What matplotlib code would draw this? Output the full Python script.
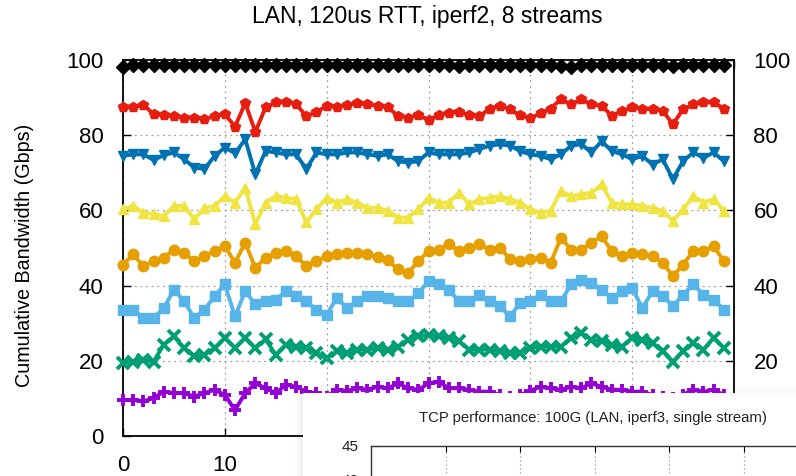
"""
LAN, 120us RTT, iperf2, 8 streams -- cumulative bandwidth per stream count,
with the iperf3 single-stream screenshot pasted over the lower right corner
"""

import matplotlib
matplotlib.use("Agg")
import matplotlib.pyplot as plt
from matplotlib.patches import Rectangle
import numpy as np

plt.rcParams["font.family"] = ["Liberation Sans", "DejaVu Sans"]

seconds = np.arange(60)

bw_8 = [98.1, 98.7, 98.8, 98.7, 98.8, 98.7, 98.8, 98.6, 98.8, 98.7,
        98.8, 98.7, 98.8, 98.6, 98.8, 98.7, 98.8, 98.7, 98.6, 98.8,
        98.7, 98.8, 98.6, 98.8, 98.7, 98.8, 98.7, 98.8, 98.7, 98.8,
        98.6, 98.7, 98.8, 98.3, 98.7, 98.8, 98.7, 98.8, 98.6, 98.7,
        98.8, 98.6, 98.7, 98.5, 98.2, 98.6, 98.7, 98.8, 98.6, 98.7,
        98.8, 98.7, 98.8, 98.6, 98.3, 98.7, 98.8, 98.7, 98.6, 98.7]
bw_7 = [87.4, 87.4, 88.1, 85.6, 85.3, 85.0, 84.7, 84.7, 84.3, 85.0,
        85.6, 82.3, 88.5, 80.9, 87.4, 88.7, 88.8, 88.3, 85.0, 86.2,
        87.8, 87.6, 88.0, 88.5, 88.2, 87.8, 87.4, 85.2, 84.7, 85.3,
        84.1, 85.3, 86.0, 86.2, 85.3, 85.0, 87.1, 87.8, 86.9, 85.3,
        84.5, 85.9, 87.1, 89.6, 88.2, 89.6, 88.2, 87.8, 85.2, 86.5,
        87.4, 87.1, 86.9, 86.5, 82.9, 86.9, 88.2, 88.7, 88.7, 87.1]
bw_6 = [74.5, 74.9, 74.9, 73.4, 74.7, 75.4, 73.6, 71.4, 71.0, 74.5,
        76.7, 75.2, 78.9, 69.6, 75.8, 75.4, 74.9, 74.9, 71.0, 75.4,
        74.9, 74.9, 75.4, 75.4, 74.9, 74.5, 74.9, 73.1, 72.7, 73.1,
        75.4, 74.9, 74.9, 74.9, 75.4, 76.3, 77.2, 77.6, 77.2, 75.8,
        74.9, 74.5, 73.6, 74.9, 77.2, 77.6, 75.4, 78.4, 75.8, 74.9,
        73.6, 74.5, 72.2, 73.6, 68.3, 73.1, 75.4, 74.0, 75.4, 73.1]
bw_5 = [60.3, 61.2, 59.4, 59.0, 58.5, 61.2, 61.2, 57.6, 60.7, 61.2,
        63.8, 62.1, 66.0, 56.3, 62.1, 63.8, 63.4, 63.0, 56.8, 60.3,
        63.4, 62.1, 63.0, 62.1, 60.7, 60.7, 59.9, 58.1, 58.1, 60.3,
        63.4, 62.1, 62.1, 64.7, 61.6, 63.0, 63.4, 63.8, 63.0, 62.1,
        60.3, 59.4, 59.9, 65.2, 63.8, 64.3, 64.7, 66.9, 62.1, 61.6,
        61.6, 61.2, 60.7, 59.9, 57.2, 60.3, 63.8, 62.1, 63.0, 59.9]
bw_4 = [45.6, 48.3, 45.2, 46.5, 47.4, 49.6, 48.7, 46.5, 47.8, 49.2,
        50.5, 46.1, 51.4, 44.7, 47.4, 48.7, 49.2, 47.8, 45.2, 46.6,
        47.8, 48.5, 48.7, 48.7, 48.3, 47.6, 46.8, 44.3, 43.4, 46.5,
        49.2, 49.6, 51.0, 49.2, 50.1, 51.0, 49.6, 50.1, 47.0, 46.5,
        47.0, 47.4, 46.1, 52.7, 49.6, 49.6, 51.4, 53.1, 49.2, 47.8,
        48.7, 48.3, 47.8, 46.1, 42.5, 45.6, 49.2, 49.2, 50.5, 46.5]
bw_3 = [33.6, 33.6, 31.4, 31.4, 34.0, 38.9, 35.8, 31.4, 33.6, 37.2,
        40.3, 31.8, 38.5, 35.0, 35.8, 36.3, 38.5, 37.2, 35.8, 33.6,
        32.3, 36.7, 34.0, 35.8, 37.2, 37.2, 36.7, 35.8, 35.8, 38.0,
        41.2, 40.3, 38.9, 35.8, 35.8, 37.6, 35.8, 34.5, 31.8, 35.4,
        35.8, 37.6, 35.8, 35.8, 40.3, 41.6, 40.7, 38.9, 36.7, 38.5,
        39.4, 34.0, 38.5, 37.2, 34.5, 37.6, 40.3, 37.6, 36.3, 33.6]
bw_2 = [19.4, 19.8, 20.3, 19.8, 24.3, 26.5, 23.4, 21.2, 21.6, 23.4,
        26.1, 23.4, 26.1, 23.4, 25.7, 21.6, 24.3, 23.8, 23.4, 22.1,
        20.7, 22.5, 22.1, 23.0, 23.0, 23.4, 23.0, 23.8, 25.6, 26.5,
        26.9, 26.5, 26.1, 25.2, 23.0, 23.0, 23.0, 22.5, 22.1, 22.1,
        23.4, 23.8, 23.8, 23.8, 26.1, 27.4, 25.6, 25.2, 24.3, 23.8,
        26.1, 25.6, 24.7, 22.5, 19.8, 22.5, 24.7, 23.0, 26.1, 23.4]
bw_1 = [9.6, 9.6, 9.2, 10.1, 11.8, 11.4, 11.4, 10.5, 11.4, 12.3,
        10.9, 6.9, 11.4, 14.0, 12.7, 11.4, 13.6, 13.1, 11.8, 11.4,
        10.5, 12.3, 12.0, 12.7, 12.3, 13.1, 12.7, 14.0, 12.7, 12.3,
        14.0, 14.4, 12.7, 12.7, 12.3, 11.8, 11.8, 10.9, 10.5, 10.9,
        12.0, 13.1, 12.7, 12.3, 13.1, 12.7, 14.0, 13.1, 12.3, 12.3,
        11.8, 11.8, 10.9, 10.5, 10.0, 11.0, 12.3, 11.8, 12.3, 10.9]

# gnuplot default colours, bottom series first
series = [bw_1, bw_2, bw_3, bw_4, bw_5, bw_6, bw_7, bw_8]
colours = ["#9400d3", "#009e73", "#56b4e9", "#e69f00",
           "#f0e442", "#0072b2", "#e51e10", "black"]
markers = ["+", "x", "s", "o", "^", "v", "p", "D"]

inset_title = "TCP performance: 100G (LAN, iperf3, single stream)"

fig = plt.figure(figsize=(7.96, 4.76), dpi=100)
ax = fig.add_axes([123/796, 1 - 436/476, (734 - 123)/796, (436 - 60)/476])

for vals, col, mk in zip(series, colours, markers):
    big = mk in ("+", "x")
    ax.plot(seconds, vals, color=col, marker=mk, lw=2.8,
            ms=8.5 if big else 7.5, mew=2.8 if big else 1,
            clip_on=False, zorder=3)

ax.set_xlim(0, 60)
ax.set_ylim(0, 100)
ax.set_xticks(np.arange(0, 61, 10))
ax.set_yticks(np.arange(0, 101, 20))
ax.grid(True, linestyle=(0, (1.5, 3)), color="#a0a0a0", lw=0.9)
ax.tick_params(direction="in", length=6, width=1, labelsize=16,
               top=True, right=True, labelright=True, pad=14)
for s in ax.spines.values():
    s.set_linewidth(1.3)
ax.set_ylabel("Cumulative Bandwidth (Gbps)", fontsize=14.2)
ax.yaxis.set_label_coords(-0.146, 0.481)

fig.text(427/796, 1 - 16/476, "LAN, 120us RTT, iperf2, 8 streams",
         ha="center", va="center", fontsize=16.5)

# pasted screenshot with a soft shadow on its left and top edges
x0, y0 = 303/796, 1 - 393/476
for k in range(8):
    fig.patches.append(Rectangle((x0 - (k + 1)/796, 0), 2/796,
                                 y0 + (k + 1)/476, transform=fig.transFigure,
                                 color="gray", alpha=0.06*(8 - k)/8,
                                 lw=0, zorder=10))
    fig.patches.append(Rectangle((x0 - (k + 1)/796, y0 + k/476),
                                 1, 1/476, transform=fig.transFigure,
                                 color="gray", alpha=0.05*(8 - k)/8,
                                 lw=0, zorder=10))
fig.patches.append(Rectangle((x0, 0), 1, y0, transform=fig.transFigure,
                             color="white", lw=0, zorder=11))
fig.text(593/796, 1 - 418/476, inset_title, ha="center", va="center",
         fontsize=10.7, color="#222222", zorder=12)

ins = fig.add_axes([371/796, -0.2, 500/796, (476 - 446)/476 + 0.2], zorder=12)
ins.set_xlim(0, 500/74.6)
ins.set_ylim(45 - 5*(30 + 95)/33, 45)
ins.set_xticks(np.arange(1, 7))
ins.set_yticks([45, 40])
ins.set_yticklabels(["45", "40"])
ins.set_xticklabels([])
ins.grid(True, axis="x", linestyle=(0, (1.5, 2)), color="#b0b0b0", lw=0.8)
ins.tick_params(direction="in", length=4, width=0.8, labelsize=11,
                top=True, labelcolor="#222222", pad=9)
for s in ins.spines.values():
    s.set_linewidth(1)
    s.set_color("#333333")

fig.savefig("out.png", dpi=100)
plt.close(fig)
